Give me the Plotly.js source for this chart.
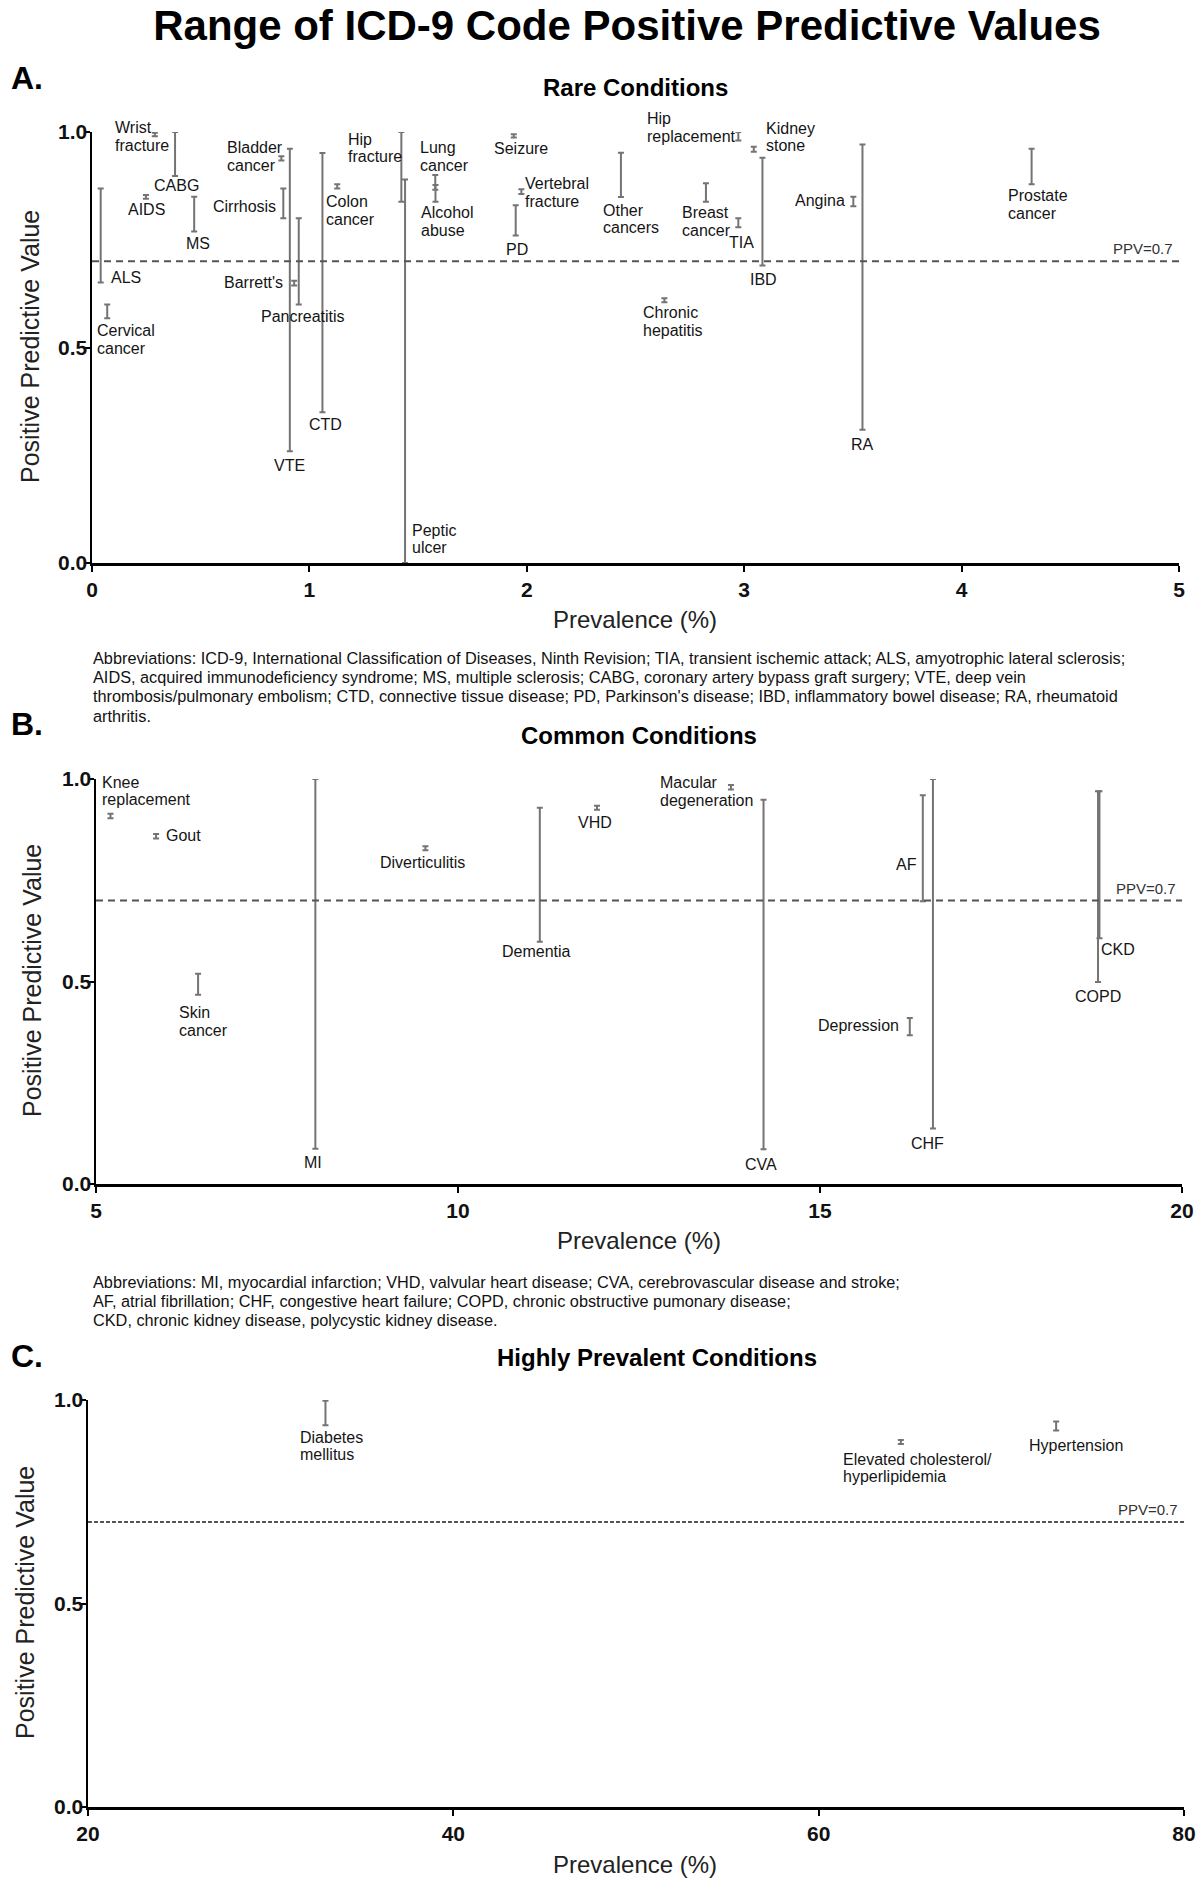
<!DOCTYPE html>
<html><head><meta charset="utf-8">
<script src="https://cdn.plot.ly/plotly-3.0.1.min.js"></script>
<style>html,body{margin:0;padding:0;background:#fff}#chart{width:1200px;height:1879px}</style>
</head><body><div id="chart"></div>
<script>
// ---------- DATA ----------
// Panel A: Rare conditions
const rareNames = ["ALS","Cervical\ncancer","Wrist\nfracture","AIDS","CABG","MS","Bladder\ncancer","Cirrhosis","VTE","Barrett's","Pancreatitis","CTD","Colon\ncancer","Hip\nfracture","Peptic\nulcer","Lung\ncancer","Alcohol\nabuse","Seizure","Vertebral\nfracture","PD","Other\ncancers","Hip\nreplacement","Kidney\nstone","Breast\ncancer","TIA","IBD","Chronic\nhepatitis","Angina","RA","Prostate\ncancer"];
const rarePrev = [0.04,0.07,0.289,0.248,0.382,0.47,0.871,0.88,0.91,0.93,0.951,1.06,1.128,1.423,1.44,1.579,1.58,1.94,1.975,1.949,2.433,2.973,3.044,2.824,2.973,3.084,2.633,3.502,3.544,4.322];
const rareLow  = [0.651,0.568,0.99,0.845,0.898,0.769,0.934,0.80,0.259,0.644,0.60,0.35,0.869,0.838,0.0,0.866,0.838,0.987,0.856,0.76,0.849,0.98,0.954,0.838,0.779,0.69,0.605,0.828,0.309,0.879];
const rareHigh = [0.869,0.600,0.998,0.854,1.0,0.850,0.944,0.869,0.961,0.655,0.80,0.951,0.879,1.0,0.89,0.90,0.877,0.995,0.867,0.83,0.952,1.0,0.966,0.881,0.80,0.94,0.614,0.850,0.971,0.961];

// Panel B: Common conditions
const commonNames = ["Knee\nreplacement","Gout","Skin\ncancer","MI","Diverticulitis","Dementia","VHD","Macular\ndegeneration","CVA","AF","CHF","Depression","CKD","COPD"];
const commonPrev = [5.20,5.83,6.41,8.03,9.55,11.13,11.92,13.77,14.22,16.42,16.56,16.24,18.86,18.84];
const commonLow  = [0.903,0.853,0.467,0.087,0.824,0.598,0.924,0.974,0.086,0.698,0.137,0.367,0.607,0.499];
const commonHigh = [0.914,0.864,0.519,1.0,0.834,0.929,0.934,0.985,0.949,0.96,1.0,0.41,0.970,0.970];

// Panel C: Highly prevalent conditions
const highNames = ["Diabetes\nmellitus","Elevated cholesterol/\nhyperlipidemia","Hypertension"];
const highPrev = [33.0,64.5,73.0];
const highLow  = [0.938,0.892,0.925];
const highHigh = [0.998,0.902,0.947];

// Axes / ticks
const yTickVals = [0,0.5,1];
const yTickText = ["0.0","0.5","1.0"];
const xTicksA = [0,1,2,3,4,5];
const xTicksB = [5,10,15,20];
const xTicksC = [20,40,60,80];
const ppvThreshold = 0.7;
const xTitle = "Prevalence (%)";
const yTitle = "Positive Predictive Value";

const noteALines = [
  "Abbreviations: ICD-9, International Classification of Diseases, Ninth Revision; TIA, transient ischemic attack; ALS, amyotrophic lateral sclerosis;",
  "AIDS, acquired immunodeficiency syndrome; MS, multiple sclerosis; CABG, coronary artery bypass graft surgery; VTE, deep vein",
  "thrombosis/pulmonary embolism; CTD, connective tissue disease; PD, Parkinson's disease; IBD, inflammatory bowel disease; RA, rheumatoid",
  "arthritis."
];
const noteBLines = [
  "Abbreviations: MI, myocardial infarction; VHD, valvular heart disease; CVA, cerebrovascular disease and stroke;",
  "AF, atrial fibrillation; CHF, congestive heart failure; COPD, chronic obstructive pumonary disease;",
  "CKD, chronic kidney disease, polycystic kidney disease."
];

// ---------- LABEL PLACEMENT (pixel offsets from bar midpoint) ----------
const LABEL_POS = {
  "ALS":[8,-42,"left"], "Cervical\ncancer":[-12,-28,"left"], "Wrist\nfracture":[-42,-2,"left"],
  "AIDS":[1,-13,"center"], "CABG":[1,-32,"center"], "MS":[4,-29,"center"],
  "Bladder\ncancer":[-56,2,"left"], "Cirrhosis":[-5,-3,"right"], "VTE":[0,-165,"center"],
  "Barrett's":[-9,1,"right"], "Pancreatitis":[4,-55,"center"], "CTD":[3,-142,"center"],
  "Colon\ncancer":[-13,-24,"left"], "Hip\nfracture":[-55,19,"left"], "Peptic\nulcer":[5,-168,"left"],
  "Lung\ncancer":[-17,26,"left"], "Alcohol\nabuse":[-16,-28,"left"], "Seizure":[7,-13,"center"],
  "Vertebral\nfracture":[2,-1,"left"], "PD":[1,-29,"center"], "Other\ncancers":[-20,-44,"left"],
  "Hip\nreplacement":[-93,9,"left"], "Kidney\nstone":[10,12,"left"], "Breast\ncancer":[-26,-29,"left"],
  "TIA":[3,-20,"center"], "IBD":[1,-68,"center"], "Chronic\nhepatitis":[-23,-21,"left"],
  "Angina":[-6,1,"right"], "RA":[0,-157,"center"], "Prostate\ncancer":[-26,-38,"left"],
  "Knee\nreplacement":[-10,25,"left"], "Gout":[8,1,"left"], "Skin\ncancer":[-21,-37,"left"],
  "MI":[-2,-199,"center"], "Diverticulitis":[-3,-14,"center"], "Dementia":[-3,-77,"center"],
  "VHD":[-2,-15,"center"], "Macular\ndegeneration":[-73,-4,"left"], "CVA":[-3,-190,"center"],
  "AF":[-4,-16,"right"], "CHF":[-5,-190,"center"], "Depression":[-9,1,"right"],
  "CKD":[0,-85,"left"], "COPD":[0,-110,"center"],
  "Diabetes\nmellitus":[-27,-33,"left"], "Elevated cholesterol/\nhyperlipidemia":[-60,-26,"left"],
  "Hypertension":[-29,-19,"left"]
};

// ---------- BUILD ----------
const FONT = 'Arial, "Liberation Sans", Helvetica, sans-serif';
const BAR_COLOR = '#747474';

function barTrace(xa, ya, prev, lo, hi, names) {
  const mid = lo.map((l,i)=> (l+hi[i])/2);
  const half = lo.map((l,i)=> (hi[i]-l)/2);
  return {
    type:'scatter', mode:'markers', x: prev, y: mid, xaxis: xa, yaxis: ya,
    text: names.map(n=>n.replace('\n',' ')), hoverinfo:'text',
    marker:{size:1, color:'rgba(0,0,0,0)'}, cliponaxis:false,
    error_y:{type:'data', symmetric:true, array: half, color: BAR_COLOR, thickness: 2, width: 3},
    showlegend:false
  };
}

const annotations = [];
const LINE_H = 17.5;
function addLabels(xa, ya, prev, lo, hi, names) {
  names.forEach((n,i)=>{
    const pos = LABEL_POS[n] || [0,0,'center'];
    const lines = n.split('\n');
    const mid = (lo[i]+hi[i])/2;
    lines.forEach((ln,k)=>{
      const off = (k - (lines.length-1)/2) * LINE_H;
      annotations.push({
        xref: xa, yref: ya, x: prev[i], y: mid, text: ln, showarrow:false,
        xanchor: pos[2], yanchor:'middle', align: pos[2],
        xshift: pos[0], yshift: pos[1] - off,
        font:{family: FONT, size:16, color:'#151515'}
      });
    });
  });
}
addLabels('x','y',rarePrev,rareLow,rareHigh,rareNames);
addLabels('x2','y2',commonPrev,commonLow,commonHigh,commonNames);
addLabels('x3','y3',highPrev,highLow,highHigh,highNames);

function pxX(p){return p/1200;}
function pxY(p){return 1 - p/1879;}

// Panel letters & titles
[["A.",78],["B.",724],["C.",1356]].forEach(([t,y])=>{
  annotations.push({xref:'paper',yref:'paper',x:pxX(9),y:pxY(y),xanchor:'left',yanchor:'middle',
    text:'<b>'+t+'</b>',showarrow:false,font:{family:FONT,size:32,color:'#000'}});
});
[["Rare Conditions",635,87],["Common Conditions",639,735],["Highly Prevalent Conditions",657,1357]].forEach(([t,x,y])=>{
  annotations.push({xref:'paper',yref:'paper',x:pxX(x),y:pxY(y),xanchor:'center',yanchor:'middle',
    text:'<b>'+t+'</b>',showarrow:false,font:{family:FONT,size:24,color:'#000'}});
});
// Axis titles
[['x',635,619],['x2',639,1240],['x3',635,1864]].forEach(([xa,x,y])=>{
  annotations.push({xref:'paper',yref:'paper',x:pxX(x),y:pxY(y),xanchor:'center',yanchor:'middle',
    text:xTitle,showarrow:false,font:{family:FONT,size:24,color:'#222'}});
});
[[30,347],[32,981],[25,1603]].forEach(([x,y])=>{
  annotations.push({xref:'paper',yref:'paper',x:pxX(x),y:pxY(y),xanchor:'center',yanchor:'middle',textangle:-90,
    text:yTitle,showarrow:false,font:{family:FONT,size:25,color:'#222'}});
});
// Notes (one annotation per line)
function addNote(lines, y0){
  lines.forEach((ln,k)=>{
    annotations.push({xref:'paper',yref:'paper',x:pxX(91),y:pxY(y0 + k*19.2),xanchor:'left',yanchor:'middle',align:'left',
      text:ln,showarrow:false,font:{family:FONT,size:16.3,color:'#111'}});
  });
}
addNote(noteALines, 658);
addNote(noteBLines, 1281.5);
// PPV labels
['y','y2','y3'].forEach((ya,i)=>{
  const xa = ['x','x2','x3'][i];
  annotations.push({xref: xa+' domain', yref: ya, x:1, y: ppvThreshold, xanchor:'right', yanchor:'bottom',
    xshift:-4, yshift:2, text:'PPV='+ppvThreshold, showarrow:false, font:{family:FONT,size:15,color:'#333'}});
});

const shapes = ['','2','3'].map((s,i)=>({
  type:'line', xref:'x'+s+' domain', yref:'y'+s, x0:0, x1:1, y0:ppvThreshold, y1:ppvThreshold,
  line:{color:'#555', width:2, dash: i===2 ? '4px,2px' : '7px,5px'}
}));

function xAxis(domain, ticks, anchor){
  return {domain, anchor, range:[ticks[0], ticks[ticks.length-1]], tickvals:ticks, ticktext: ticks.map(String),
    showline:true, linecolor:'#000', linewidth:2.5, ticks:'outside', ticklen:6, tickwidth:2, tickcolor:'#000',
    tickfont:{family:FONT,size:21,weight:700,color:'#111'}, showgrid:false, zeroline:false, fixedrange:true};
}
function yAxis(domain, anchor){
  return {domain, anchor, range:[0,1], tickvals:yTickVals, ticktext:yTickText,
    showline:true, linecolor:'#000', linewidth:2.5, ticks:'outside', ticklen:5, tickwidth:2, tickcolor:'#000',
    ticklabelstandoff:-7,
    tickfont:{family:FONT,size:21,weight:700,color:'#111'}, showgrid:false, zeroline:false, fixedrange:true};
}

const layout = {
  width:1200, height:1879, margin:{l:0,r:0,t:0,b:0}, paper_bgcolor:'#fff', plot_bgcolor:'#fff',
  showlegend:false,
  title:{text:'<b>Range of ICD-9 Code Positive Predictive Values</b>', x:pxX(627), xanchor:'center',
    y:pxY(25), yanchor:'middle', font:{family:FONT,size:42,color:'#000'}},
  xaxis: xAxis([pxX(92),pxX(1179)], xTicksA, 'y'),
  yaxis: yAxis([pxY(563),pxY(132)], 'x'),
  xaxis2: xAxis([pxX(96),pxX(1182)], xTicksB, 'y2'),
  yaxis2: yAxis([pxY(1184),pxY(779)], 'x2'),
  xaxis3: xAxis([pxX(88),pxX(1184)], xTicksC, 'y3'),
  yaxis3: yAxis([pxY(1807),pxY(1400)], 'x3'),
  annotations, shapes
};

const data = [
  barTrace('x','y',rarePrev,rareLow,rareHigh,rareNames),
  barTrace('x2','y2',commonPrev,commonLow,commonHigh,commonNames),
  barTrace('x3','y3',highPrev,highLow,highHigh,highNames)
];
Plotly.newPlot('chart', data, layout, {displayModeBar:false, staticPlot:true});
</script></body></html>
